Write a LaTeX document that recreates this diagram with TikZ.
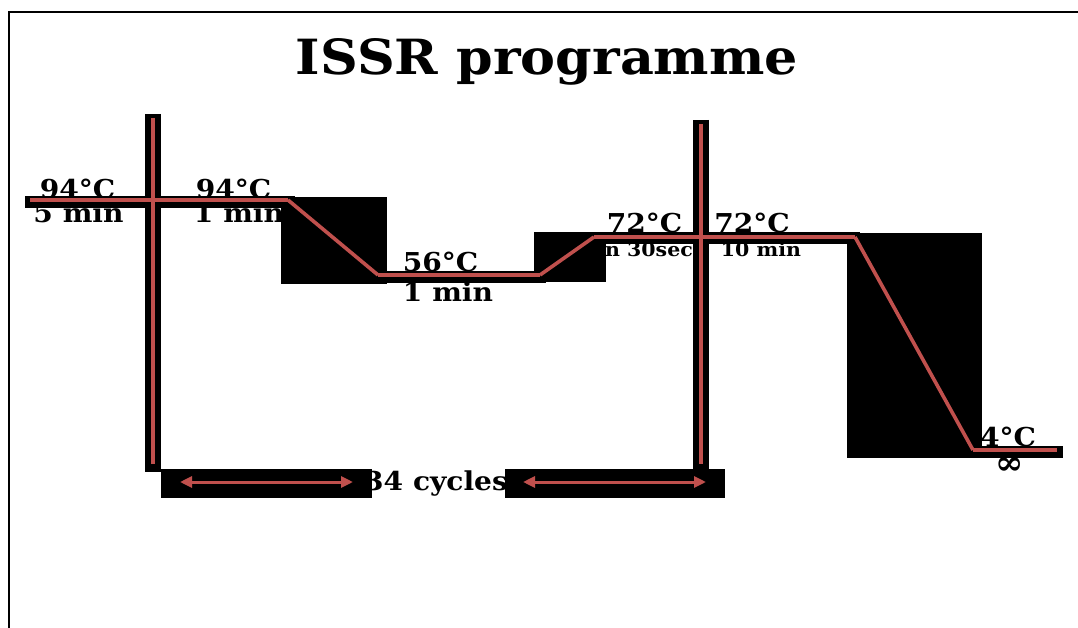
\documentclass[tikz,border=0pt]{standalone}
\usepackage{fontspec}
\setmainfont{DejaVu Serif}
\newfontfamily\widefont[FakeStretch=1.08]{DejaVu Serif}
\usetikzlibrary{arrows.meta}
\definecolor{myred}{HTML}{C0504D}
\begin{document}
\begin{tikzpicture}[x=1pt,y=-1pt,
  lbl/.style={font=\widefont\bfseries\fontsize{26}{26}\selectfont, inner sep=0pt, anchor=base},
  small/.style={font=\widefont\bfseries\fontsize{19}{19}\selectfont, inner sep=0pt, anchor=base},
  shade/.style={line width=12pt, black},
  vshade/.style={line width=16pt, black},
  redline/.style={line width=3.6pt, myred},
  blkbox/.style={fill=black, draw=none},
  dbl/.style={line width=3pt, myred, {Triangle[length=12pt,width=11pt]}-{Triangle[length=12pt,width=11pt]}}
]
\useasboundingbox (0,0) rectangle (1078,628);
\fill[white] (0,0) rectangle (1078,628);
% frame
\draw[line width=2pt] (9,628) -- (9,12) -- (1078,12);
% title
\node[font=\widefont\bfseries\fontsize{48.5}{48.5}\selectfont, inner sep=0pt, anchor=base] (title) at (547,75) {ISSR programme};
% labels
\node[lbl] (t1) at (77.5,199) {94°C};
\node[lbl] (d1) at (78.5,223) {5 min};
\node[lbl] (t2) at (233.5,199) {94°C};
\node[lbl] (d2) at (239,223) {1 min};
\node[lbl] (t3) at (440.5,271) {56°C};
\node[lbl] (d3) at (448,301) {1 min};
\node[lbl] (t4) at (644.5,233) {72°C};
\node[small, anchor=base east] (d4) at (693,257) {1 min 30sec};
\node[lbl] (t5) at (752,233) {72°C};
\node[small] (d5) at (761,257) {10 min};
\node[lbl] (t6) at (1008,446) {4°C};
\node[lbl, font=\bfseries\fontsize{34}{34}\selectfont] (d6) at (1010,474) {∞};
\node[lbl] (cyc) at (436,490) {34 cycles};
% black boxes
\fill[blkbox] (281,197) rectangle (387,284);
\fill[blkbox] (534,232) rectangle (606,282);
\fill[blkbox] (847,233) rectangle (982,458);
\fill[blkbox] (161,469) rectangle (372,498);
\fill[blkbox] (505,469) rectangle (725,498);
% coordinates
\coordinate (h1a) at (25,202);
\coordinate (h1b) at (295,202);
\coordinate (r1a) at (30,200);
\coordinate (r1b) at (288,200);
\coordinate (h2a) at (373,277);
\coordinate (h2b) at (546,277);
\coordinate (r2a) at (378,275);
\coordinate (r2b) at (540,275);
\coordinate (h3a) at (590,238);
\coordinate (h3b) at (860,238);
\coordinate (r3a) at (594,237);
\coordinate (r3b) at (855,237);
\coordinate (h4a) at (973,452);
\coordinate (h4b) at (1063,452);
\coordinate (r4a) at (973,450);
\coordinate (r4b) at (1057,450);
\coordinate (v1t) at (153,114);
\coordinate (v1b) at (153,472);
\coordinate (v2t) at (701,120);
\coordinate (v2b) at (701,472);
\coordinate (v1rt) at (153,118);
\coordinate (v1rb) at (153,464);
\coordinate (v2rt) at (701,124);
\coordinate (v2rb) at (701,464);
% black underlays
\draw[shade] (h1a) -- (h1b);
\draw[shade] (h2a) -- (h2b);
\draw[shade] (h3a) -- (h3b);
\draw[shade] (h4a) -- (h4b);
\draw[vshade] (v1t) -- (v1b);
\draw[vshade] (v2t) -- (v2b);
% red profile
\draw[redline] (r1a) -- (r1b);
\draw[redline] (r1b) -- (r2a);
\draw[redline] (r2a) -- (r2b);
\draw[redline] (r2b) -- (r3a);
\draw[redline] (r3a) -- (r3b);
\draw[redline] (r3b) -- (r4a);
\draw[redline] (r4a) -- (r4b);
\draw[redline] (v1rt) -- (v1rb);
\draw[redline] (v2rt) -- (v2rb);
% cycle arrows
\coordinate (a1l) at (180,482);
\coordinate (a1r) at (353,482);
\coordinate (a2l) at (523,482);
\coordinate (a2r) at (706,482);
\draw[dbl] (a1l) -- (a1r);
\draw[dbl] (a2l) -- (a2r);
\end{tikzpicture}
\end{document}
